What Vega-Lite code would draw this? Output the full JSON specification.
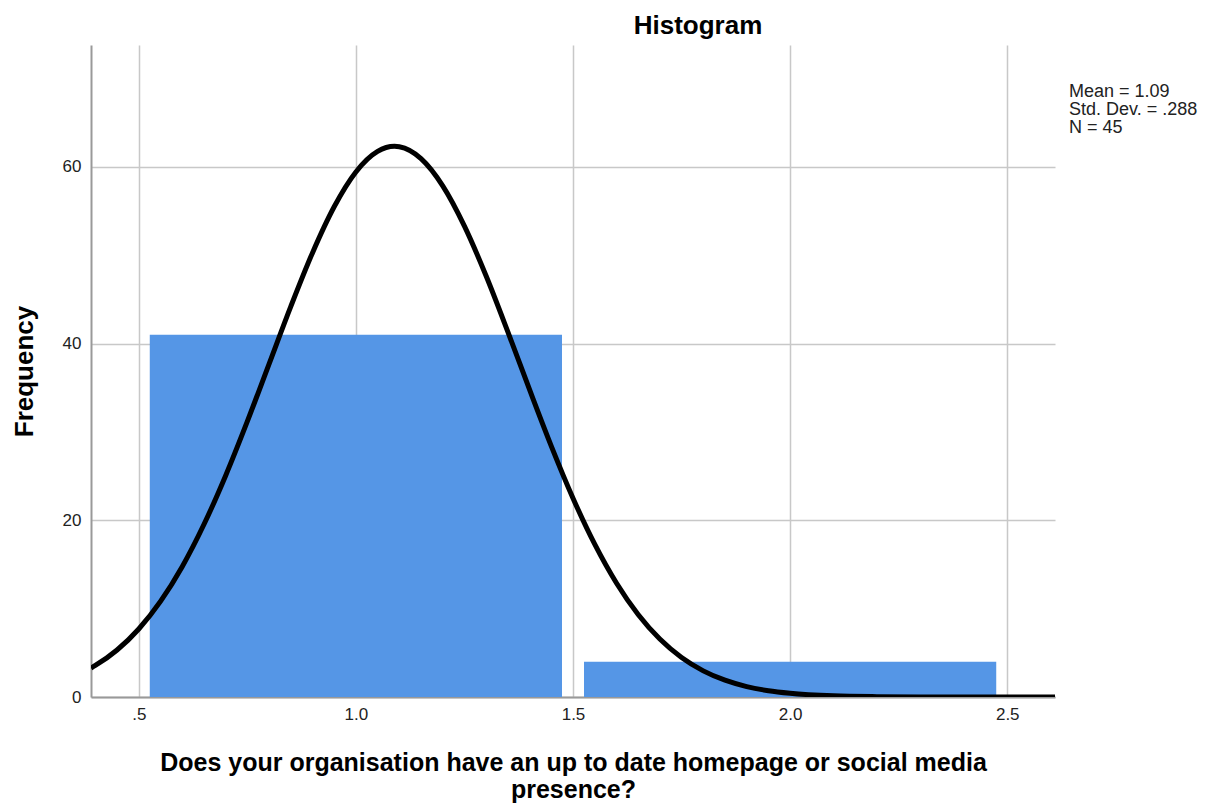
{
  "$schema": "https://vega.github.io/schema/vega-lite/v6.json",
  "autosize": "none",
  "width": 964,
  "height": 652,
  "padding": {"left": 91, "top": 45, "right": 159, "bottom": 108},
  "background": "white",
  "config": {
    "font": "Liberation Sans",
    "view": {"stroke": null},
    "axis": {
      "gridColor": "#c8c8c8",
      "gridWidth": 1.5,
      "domainColor": "#999999",
      "domainWidth": 2,
      "ticks": false,
      "labelFont": "Liberation Sans",
      "labelFontSize": 17,
      "labelColor": "#222222",
      "titleFont": "Liberation Sans",
      "titleFontWeight": "bold",
      "titleFontSize": 26,
      "titleColor": "#000000"
    }
  },
  "title": {
    "text": "Histogram",
    "font": "Liberation Sans",
    "fontSize": 26,
    "fontWeight": "bold",
    "color": "#000000",
    "anchor": "middle",
    "dx": 125,
    "offset": 6
  },
  "datasets": {
    "bins": [
      {"bin_start": 0.5, "bin_end": 1.5, "count": 41},
      {"bin_start": 1.5, "bin_end": 2.5, "count": 4}
    ],
    "curve": [
      {"x": 0.39, "y": 3.28}, {"x": 0.40, "y": 3.57}, {"x": 0.45, "y": 5.32},
      {"x": 0.50, "y": 7.70}, {"x": 0.55, "y": 10.82}, {"x": 0.60, "y": 14.75},
      {"x": 0.65, "y": 19.52}, {"x": 0.70, "y": 25.05}, {"x": 0.75, "y": 31.19},
      {"x": 0.80, "y": 37.69}, {"x": 0.85, "y": 44.19}, {"x": 0.90, "y": 50.27},
      {"x": 0.95, "y": 55.49}, {"x": 1.00, "y": 59.43}, {"x": 1.05, "y": 61.76},
      {"x": 1.0889, "y": 62.33}, {"x": 1.10, "y": 62.28}, {"x": 1.15, "y": 60.94},
      {"x": 1.20, "y": 57.86}, {"x": 1.25, "y": 53.30}, {"x": 1.30, "y": 47.65},
      {"x": 1.35, "y": 41.33}, {"x": 1.40, "y": 34.78}, {"x": 1.45, "y": 28.40},
      {"x": 1.50, "y": 22.50}, {"x": 1.55, "y": 17.30}, {"x": 1.60, "y": 12.91},
      {"x": 1.65, "y": 9.34}, {"x": 1.70, "y": 6.56}, {"x": 1.75, "y": 4.47},
      {"x": 1.80, "y": 2.96}, {"x": 1.85, "y": 1.90}, {"x": 1.90, "y": 1.18},
      {"x": 1.95, "y": 0.71}, {"x": 2.00, "y": 0.42}, {"x": 2.10, "y": 0.13},
      {"x": 2.20, "y": 0.037}, {"x": 2.30, "y": 0.009}, {"x": 2.40, "y": 0.002},
      {"x": 2.50, "y": 0.0}, {"x": 2.61, "y": 0.0}
    ],
    "stats": [
      {"label": "Mean = 1.09"},
      {"label": "Std. Dev. = .288"},
      {"label": "N = 45"}
    ]
  },
  "layer": [
    {
      "data": {"name": "bins"},
      "mark": {"type": "bar", "color": "#5596e6", "xOffset": 11, "x2Offset": -11},
      "encoding": {
        "x": {
          "field": "bin_start",
          "type": "quantitative",
          "scale": {"domain": [0.39, 2.61], "nice": false, "zero": false},
          "axis": {
            "values": [0.5, 1.0, 1.5, 2.0, 2.5],
            "labelExpr": "datum.value == 0.5 ? '.5' : format(datum.value, '.1f')",
            "labelPadding": 9,
            "grid": true,
            "title": ["Does your organisation have an up to date homepage or social media", "presence?"],
            "titleFontSize": 25,
            "titlePadding": 28,
            "titleLineHeight": 27,
            "domainColor": "#999999"
          }
        },
        "x2": {"field": "bin_end"},
        "y": {
          "field": "count",
          "type": "quantitative",
          "scale": {"domain": [0, 73.8], "nice": false},
          "axis": {
            "values": [0, 20, 40, 60],
            "grid": true,
            "labelPadding": 10,
            "title": "Frequency",
            "titlePadding": 25
          }
        },
        "y2": {"datum": 0}
      }
    },
    {
      "data": {"name": "curve"},
      "mark": {"type": "line", "color": "#000000", "strokeWidth": 5, "interpolate": "monotone", "clip": true},
      "encoding": {
        "x": {"field": "x", "type": "quantitative"},
        "y": {"field": "y", "type": "quantitative"}
      }
    },
    {
      "data": {"name": "stats"},
      "mark": {"type": "point", "opacity": 0},
      "encoding": {
        "color": {
          "field": "label",
          "type": "nominal",
          "scale": {"domain": ["Mean = 1.09", "Std. Dev. = .288", "N = 45"], "range": ["#000000", "#000000", "#000000"]},
          "legend": {
            "title": null,
            "orient": "none",
            "legendX": 960,
            "legendY": 38,
            "symbolSize": 0,
            "symbolOpacity": 0,
            "symbolStrokeWidth": 0,
            "labelOffset": 0,
            "labelFont": "Liberation Sans",
            "labelFontSize": 18,
            "labelColor": "#222222",
            "rowPadding": 0,
            "padding": 0
          }
        }
      }
    }
  ]
}
